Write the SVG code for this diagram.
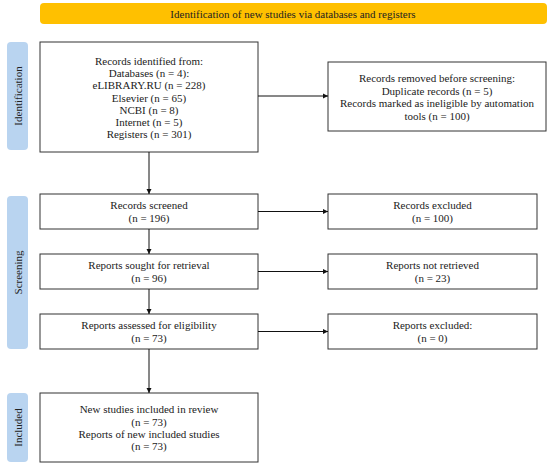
<svg xmlns="http://www.w3.org/2000/svg" width="550" height="466" viewBox="0 0 550 466">
<defs>
<marker id="ah" markerWidth="6" markerHeight="6" refX="5" refY="3" orient="auto" markerUnits="userSpaceOnUse">
<path d="M0,0.5 L5,3 L0,5.5 z" fill="#111"/>
</marker>
<style>
.box{fill:#fff;stroke:#333;stroke-width:1}
.side{fill:#b9d4f0}
.hdr{fill:#ffc000}
text{font-family:"Liberation Serif","Times New Roman",serif;font-size:11px;fill:#222;text-anchor:middle;dominant-baseline:central}
.con{stroke:#111;stroke-width:1;fill:none;marker-end:url(#ah)}
</style>
</defs>
<rect width="550" height="466" fill="#fff"/>
<g id="header">
<rect class="hdr" x="40" y="3" width="507" height="21" rx="4"/>
<text x="293" y="13.5">Identification of new studies via databases and registers</text>
</g>
<g id="side-identification">
<rect class="side" x="7" y="42" width="21" height="108" rx="4"/>
<text transform="translate(17.5,96) rotate(-90)">Identification</text>
</g>
<g id="side-screening">
<rect class="side" x="7" y="196" width="21" height="153" rx="4"/>
<text transform="translate(17.5,272.5) rotate(-90)">Screening</text>
</g>
<g id="side-included">
<rect class="side" x="7" y="393" width="21" height="69" rx="4"/>
<text transform="translate(17.5,427.5) rotate(-90)">Included</text>
</g>
<g id="records-identified">
<rect class="box" x="40" y="42" width="218" height="110"/>
<text x="149" y="61">Records identified from:</text>
<text x="149" y="73">Databases (n = 4):</text>
<text x="149" y="85">eLIBRARY.RU (n = 228)</text>
<text x="149" y="97.5">Elsevier (n = 65)</text>
<text x="149" y="110">NCBI (n = 8)</text>
<text x="149" y="122">Internet (n = 5)</text>
<text x="149" y="134">Registers (n = 301)</text>
</g>
<g id="records-removed">
<rect class="box" x="328" y="62" width="218" height="69"/>
<text x="437" y="78">Records removed before screening:</text>
<text x="437" y="90.5">Duplicate records (n = 5)</text>
<text x="437" y="103">Records marked as ineligible by automation</text>
<text x="437" y="115.5">tools (n = 100)</text>
</g>
<g id="records-screened">
<rect class="box" x="40" y="194" width="218" height="35"/>
<text x="149" y="205">Records screened</text>
<text x="149" y="218">(n = 196)</text>
</g>
<g id="records-excluded">
<rect class="box" x="328" y="194" width="209" height="35"/>
<text x="432.5" y="205">Records excluded</text>
<text x="432.5" y="218">(n = 100)</text>
</g>
<g id="reports-sought">
<rect class="box" x="40" y="254" width="218" height="35"/>
<text x="149" y="265">Reports sought for retrieval</text>
<text x="149" y="278">(n = 96)</text>
</g>
<g id="reports-not-retrieved">
<rect class="box" x="328" y="254" width="209" height="35"/>
<text x="432.5" y="265">Reports not retrieved</text>
<text x="432.5" y="278">(n = 23)</text>
</g>
<g id="reports-assessed">
<rect class="box" x="40" y="314" width="218" height="35"/>
<text x="149" y="325">Reports assessed for eligibility</text>
<text x="149" y="338">(n = 73)</text>
</g>
<g id="reports-excluded">
<rect class="box" x="328" y="314" width="209" height="35"/>
<text x="432.5" y="325">Reports excluded:</text>
<text x="432.5" y="338">(n = 0)</text>
</g>
<g id="included">
<rect class="box" x="40" y="393" width="218" height="69"/>
<text x="149" y="409">New studies included in review</text>
<text x="149" y="421.5">(n = 73)</text>
<text x="149" y="433.5">Reports of new included studies</text>
<text x="149" y="446">(n = 73)</text>
</g>
<g id="connectors">
<line class="con" x1="258" y1="96" x2="328" y2="96"/>
<line class="con" x1="149" y1="152" x2="149" y2="194"/>
<line class="con" x1="258" y1="211.5" x2="328" y2="211.5"/>
<line class="con" x1="149" y1="229" x2="149" y2="254"/>
<line class="con" x1="258" y1="271.5" x2="328" y2="271.5"/>
<line class="con" x1="149" y1="289" x2="149" y2="314"/>
<line class="con" x1="258" y1="331.5" x2="328" y2="331.5"/>
<line class="con" x1="149" y1="349" x2="149" y2="393"/>
</g>
</svg>
